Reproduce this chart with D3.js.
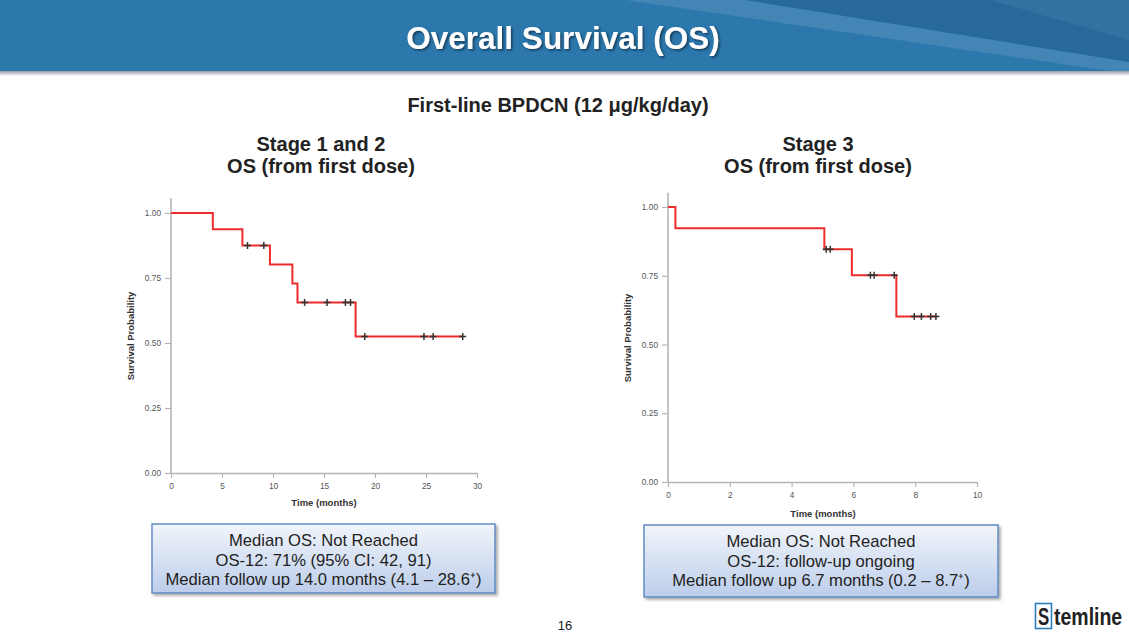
<!DOCTYPE html>
<html>
<head>
<meta charset="utf-8">
<script src="https://cdn.jsdelivr.net/npm/d3@7"></script>
<style>
  html, body { margin: 0; padding: 0; background: #fff; }
  svg { display: block; font-family: "Liberation Sans", Arial, sans-serif; }
</style>
</head>
<body>
<svg id="chart" width="1129" height="635"></svg>
<script>
// ---------- Data ----------
const slideTitle = "Overall Survival (OS)";
const subtitle = "First-line BPDCN (12 \u03bcg/kg/day)";

const stage12Title = ["Stage 1 and 2", "OS (from first dose)"];
const stage12EventTimes = [0, 4.1, 7.0, 9.7, 11.9, 12.4, 18.1];
const stage12Survival  = [1.0, 0.9375, 0.875, 0.802, 0.729, 0.656, 0.525];
const stage12LastTime = 28.6;
const stage12Censored = [7.5, 9.1, 13.1, 15.3, 17.1, 17.6, 19.0, 24.8, 25.7, 28.6];
const stage12XTicks = [0, 5, 10, 15, 20, 25, 30];
const stage12Notes = ["Median OS: Not Reached", "OS-12: 71% (95% CI: 42, 91)", "Median follow up 14.0 months (4.1 \u2013 28.6\u207a)"];

const stage3Title = ["Stage 3", "OS (from first dose)"];
const stage3EventTimes = [0, 0.24, 5.06, 5.95, 7.39];
const stage3Survival  = [1.0, 0.923, 0.846, 0.752, 0.602];
const stage3LastTime = 8.7;
const stage3Censored = [5.12, 5.25, 6.55, 6.67, 7.32, 7.97, 8.2, 8.5, 8.67];
const stage3XTicks = [0, 2, 4, 6, 8, 10];
const stage3Notes = ["Median OS: Not Reached", "OS-12: follow-up ongoing", "Median follow up 6.7 months (0.2 \u2013 8.7\u207a)"];

const yTicks = [0, 0.25, 0.5, 0.75, 1.0];
const xAxisTitle = "Time (months)";
const yAxisTitle = "Survival Probability";
const pageNumber = "16";

// ---------- Drawing ----------
const svg = d3.select("#chart");
const defs = svg.append("defs");

// banner
const shadowGrad = defs.append("linearGradient").attr("id", "bshadow").attr("x1", 0).attr("y1", 0).attr("x2", 0).attr("y2", 1);
shadowGrad.append("stop").attr("offset", 0).attr("stop-color", "#7f8a94");
shadowGrad.append("stop").attr("offset", 1).attr("stop-color", "#ffffff");
svg.append("rect").attr("x", 0).attr("y", 70).attr("width", 1129).attr("height", 6).attr("fill", "url(#bshadow)");
svg.append("rect").attr("x", 0).attr("y", 0).attr("width", 1129).attr("height", 71).attr("fill", "#2c78ad");
svg.append("polygon").attr("points", "626,0 745,0 1129,62 1129,71 1110,71").attr("fill", "#ffffff").attr("opacity", 0.11);
svg.append("polygon").attr("points", "745,0 1129,0 1129,62").attr("fill", "#1b4a72").attr("opacity", 0.32);
svg.append("polygon").attr("points", "990,0 1129,0 1129,40").attr("fill", "#5d8fb5").attr("opacity", 0.25);

const tshadow = defs.append("filter").attr("id", "tshadow").attr("x", "-5%").attr("y", "-20%").attr("width", "110%").attr("height", "140%");
tshadow.append("feDropShadow").attr("dx", 1.5).attr("dy", 1.5).attr("stdDeviation", 0.8).attr("flood-color", "#0b2a45").attr("flood-opacity", 0.8);

svg.append("text").attr("x", 563).attr("y", 49).attr("text-anchor", "middle")
  .attr("font-size", 31.5).attr("font-weight", "bold").attr("fill", "#fff")
  .attr("filter", "url(#tshadow)").text(slideTitle);

svg.append("text").attr("x", 558).attr("y", 112).attr("text-anchor", "middle")
  .attr("font-size", 20).attr("font-weight", "bold").attr("fill", "#222").text(subtitle);

// box gradient + shadow
const boxGrad = defs.append("linearGradient").attr("id", "boxg").attr("x1", 0).attr("y1", 0).attr("x2", 0).attr("y2", 1);
boxGrad.append("stop").attr("offset", 0).attr("stop-color", "#f1f5fb");
boxGrad.append("stop").attr("offset", 1).attr("stop-color", "#bccdea");
const boxShadow = defs.append("filter").attr("id", "boxs").attr("x", "-5%").attr("y", "-10%").attr("width", "115%").attr("height", "130%");
boxShadow.append("feDropShadow").attr("dx", 2).attr("dy", 2).attr("stdDeviation", 1.5).attr("flood-color", "#000").attr("flood-opacity", 0.35);

function stepLookup(times, surv, t) {
  let v = surv[0];
  for (let i = 0; i < times.length; i++) if (times[i] <= t) v = surv[i];
  return v;
}

function drawPanel(cfg) {
  const g = svg.append("g");
  cfg.title.forEach((line, i) => {
    g.append("text").attr("x", cfg.cx).attr("y", 151 + i * 22).attr("text-anchor", "middle")
      .attr("font-size", 20).attr("font-weight", "bold").attr("fill", "#222").text(line);
  });

  const x = d3.scaleLinear().domain([0, cfg.xMax]).range([cfg.x0, cfg.x1]);
  const y = d3.scaleLinear().domain([0, 1]).range([cfg.y0, cfg.y1]);
  const yTop = y(cfg.yAxisMax);

  const yAxis = d3.axisLeft(y).tickValues(yTicks).tickFormat(d3.format(".2f")).tickSize(6).tickSizeOuter(0).tickPadding(4);
  const ya = g.append("g").attr("transform", `translate(${cfg.x0},0)`).call(yAxis);
  ya.select(".domain").attr("d", `M0,${yTop}V${cfg.y0}`);
  const xAxis = d3.axisBottom(x).tickValues(cfg.xTicks).tickSize(5).tickSizeOuter(0).tickPadding(5);
  const xa = g.append("g").attr("transform", `translate(0,${cfg.y0})`).call(xAxis);
  [ya, xa].forEach(a => {
    a.select(".domain").attr("stroke", "#b5b5b5").attr("stroke-width", 1.6);
    a.selectAll(".tick line").attr("stroke", "#b5b5b5").attr("stroke-width", 1.2);
    a.selectAll(".tick text").attr("fill", "#555").attr("font-size", 8.3)
      .attr("font-family", "'Liberation Sans', Arial, sans-serif");
  });

  g.append("text").attr("x", cfg.xTitleX).attr("y", cfg.xTitleY).attr("text-anchor", "middle")
    .attr("font-size", 9.5).attr("font-weight", "bold").attr("fill", "#333").text(xAxisTitle);
  g.append("text").attr("transform", `translate(${cfg.yTitleX},${cfg.yTitleY}) rotate(-90)`)
    .attr("text-anchor", "middle").attr("font-size", 9.5).attr("font-weight", "bold").attr("fill", "#333").text(yAxisTitle);

  const pts = cfg.times.map((t, i) => [t, cfg.surv[i]]);
  pts.push([cfg.last, cfg.surv[cfg.surv.length - 1]]);
  const line = d3.line().x(d => x(d[0])).y(d => y(d[1])).curve(d3.curveStepAfter);
  g.append("path").datum(pts).attr("d", line).attr("fill", "none").attr("stroke", "#ee2b2b").attr("stroke-width", 2);

  const cs = 3.5;
  const cg = g.append("g").attr("stroke", "#333").attr("stroke-width", 1.5);
  cfg.censored.forEach(t => {
    const cx = x(t), cy = y(stepLookup(cfg.times, cfg.surv, t));
    cg.append("line").attr("x1", cx - cs).attr("x2", cx + cs).attr("y1", cy).attr("y2", cy);
    cg.append("line").attr("x1", cx).attr("x2", cx).attr("y1", cy - cs).attr("y2", cy + cs);
  });

  const b = cfg.box;
  g.append("rect").attr("x", b.x).attr("y", b.y).attr("width", b.w).attr("height", b.h)
    .attr("fill", "url(#boxg)").attr("stroke", "#5b86c2").attr("stroke-width", 1.4).attr("filter", "url(#boxs)");
  cfg.notes.forEach((line, i) => {
    g.append("text").attr("x", b.x + b.w / 2).attr("y", b.y + 22 + i * 19.5).attr("text-anchor", "middle")
      .attr("font-size", 16.6).attr("fill", "#222").text(line);
  });
}

drawPanel({
  title: stage12Title, cx: 321,
  x0: 171, x1: 477, y0: 473, y1: 213, xMax: 30, yAxisMax: 1.057,
  xTicks: stage12XTicks,
  xTitleX: 324, xTitleY: 506, yTitleX: 134, yTitleY: 336,
  times: stage12EventTimes, surv: stage12Survival, last: stage12LastTime, censored: stage12Censored,
  box: { x: 152, y: 524, w: 343, h: 69 }, notes: stage12Notes
});

drawPanel({
  title: stage3Title, cx: 818,
  x0: 668, x1: 977, y0: 482, y1: 207, xMax: 10, yAxisMax: 1.052,
  xTicks: stage3XTicks,
  xTitleX: 823, xTitleY: 517, yTitleX: 631, yTitleY: 338,
  times: stage3EventTimes, surv: stage3Survival, last: stage3LastTime, censored: stage3Censored,
  box: { x: 644, y: 525, w: 354, h: 72 }, notes: stage3Notes
});

svg.append("text").attr("x", 565).attr("y", 630).attr("text-anchor", "middle")
  .attr("font-size", 13).attr("fill", "#222").text(pageNumber);

// logo
const logo = svg.append("g");
logo.append("rect").attr("x", 1035.5).attr("y", 603.5).attr("width", 16).attr("height", 25)
  .attr("fill", "#fff").attr("stroke", "#2b7fc0").attr("stroke-width", 1.6);
logo.append("text").attr("transform", "translate(1043.5,625) scale(0.8,1.15)").attr("text-anchor", "middle")
  .attr("font-size", 21).attr("font-weight", "bold").attr("fill", "#222").text("S");
logo.append("text").attr("transform", "translate(1054,625) scale(1,1.2)")
  .attr("font-size", 19.5).attr("font-weight", "bold").attr("fill", "#222").text("temline");
</script>
</body>
</html>
